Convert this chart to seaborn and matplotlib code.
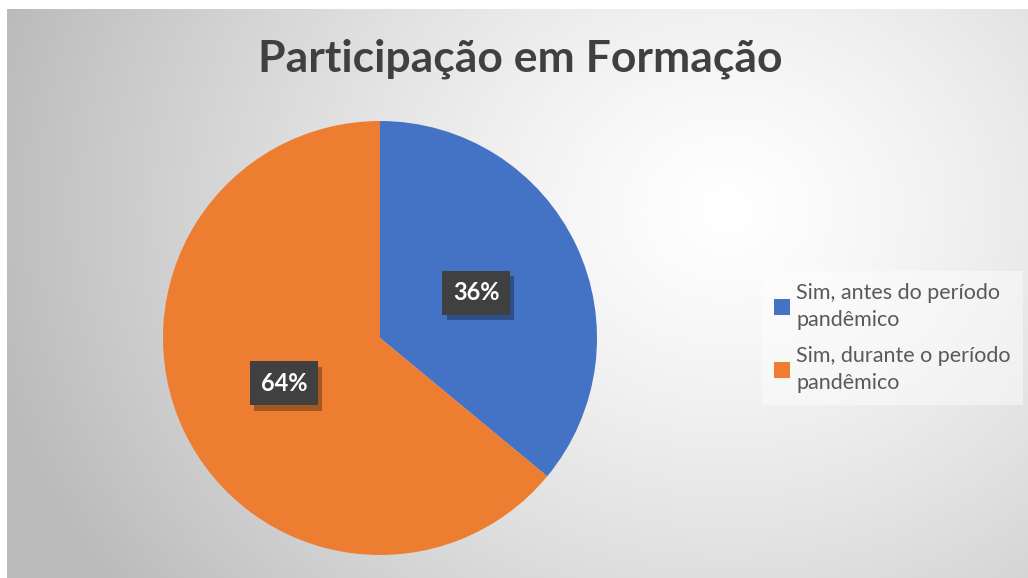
import numpy as np
import seaborn as sns
import matplotlib.pyplot as plt
import matplotlib.patheffects as pe
from matplotlib.patches import Patch

categorias = ["Sim, antes do período\npandêmico", "Sim, durante o período\npandêmico"]
valores = [36, 64]
titulo = "Participação em Formação"

sns.set_theme(style="white")
plt.rcParams['font.family'] = ['Lato', 'DejaVu Sans']
cores = ["#4472C4", "#ED7D31"]

W, H = 1028, 578
fig = plt.figure(figsize=(W / 100, H / 100), dpi=100)
fig.patch.set_facecolor("white")

# background: radial gray gradient like the Excel chart area
bg = fig.add_axes([7 / W, 0, (W - 7) / W, (H - 9) / H])
yy, xx = np.mgrid[0:H - 9, 0:W - 7]
d = np.sqrt((xx - 720) ** 2 + ((yy - 200) * 1.15) ** 2)
g = 1 - np.clip(d / 760, 0, 1) ** 1.3 * 0.27
bg.imshow(np.dstack([g, g, g]), aspect="auto", extent=[0, 1, 0, 1], origin="upper")
bg.axis("off")

# pie
cx, cy, r = 380, 338, 217
ax = fig.add_axes([(cx - r) / W, (H - cy - r) / H, 2 * r / W, 2 * r / H])
wedges, _, autotexts = ax.pie(valores, colors=cores, startangle=90, counterclock=False,
                              autopct="%1.0f%%", pctdistance=0.49,
                              wedgeprops=dict(linewidth=0))
ax.set_xlim(-1, 1)
ax.set_ylim(-1, 1)
ax.axis("off")
for t in autotexts:
    t.set_color("white")
    t.set_fontsize(17)
    t.set_fontweight("bold")
    t.set_bbox(dict(boxstyle="square,pad=0.45", facecolor="#404040", edgecolor="none"))
    t.get_bbox_patch().set_path_effects([
        pe.withSimplePatchShadow(offset=(3, -4), shadow_rgbFace="black", alpha=0.3),
    ])

fig.text(0.506, 0.898, titulo, ha="center", va="center", fontsize=32,
         fontweight="bold", color="#404040")

handles = [Patch(facecolor=c, edgecolor="none") for c in cores]
leg = fig.legend(handles, categorias, loc="center left", bbox_to_anchor=(751 / W, 1 - 338 / H),
                 fontsize=15.5, frameon=True, handlelength=0.75, handleheight=0.75,
                 handletextpad=0.3, labelspacing=0.7, borderpad=0.55, fancybox=False)
leg.get_frame().set_facecolor("white")
leg.get_frame().set_alpha(0.45)
leg.get_frame().set_edgecolor("none")
for t in leg.get_texts():
    t.set_color("#595959")
    t.set_linespacing(1.45)

fig.savefig("out.png", dpi=100)
